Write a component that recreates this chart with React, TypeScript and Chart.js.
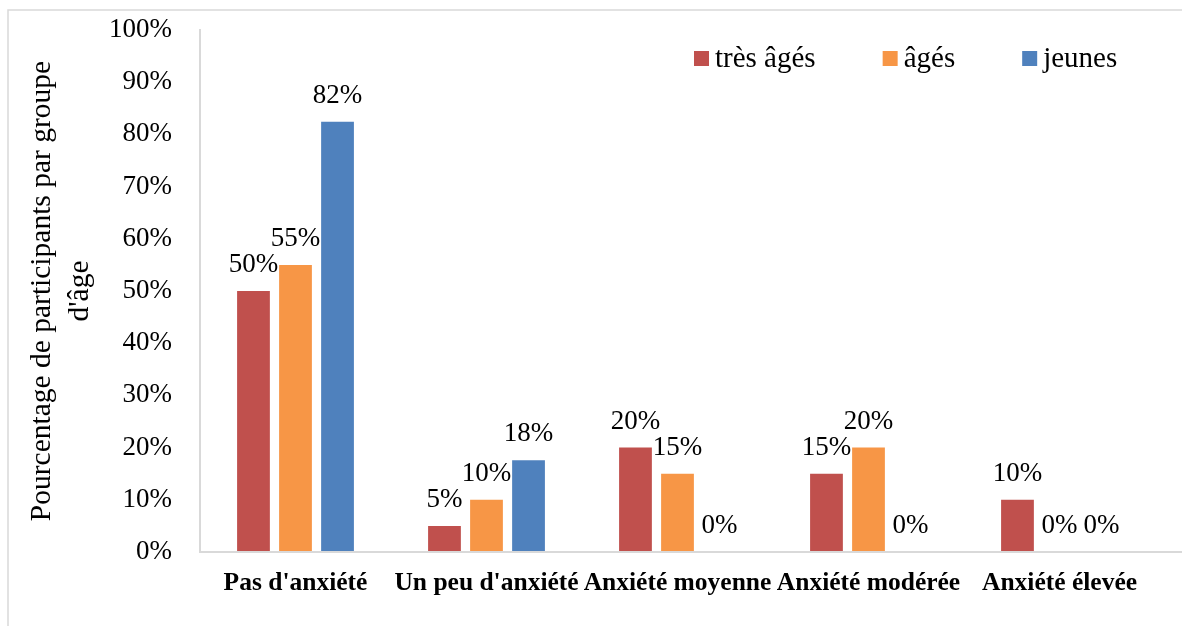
import React, { useEffect, useRef } from 'react';
import { Chart, registerables } from 'chart.js';

Chart.register(...registerables);

const categories = ["Pas d'anxiété", "Un peu d'anxiété", "Anxiété moyenne", "Anxiété modérée", "Anxiété élevée"];
const seriesNames = ['très âgés', 'âgés', 'jeunes'];
const tresAges = [50, 5, 20, 15, 10];
const ages = [55, 10, 15, 20, 0];
const jeunes = [82.4, 17.6, 0, 0, 0];
const seriesColors = ['#C0504D', '#F79646', '#4F81BD'];
const yTitle = ['Pourcentage de participants par groupe', "d'âge"];

const SERIF = '"Liberation Serif", "Times New Roman", serif';
const LINE = '#d9d9d9';

const framePlugin = {
  id: 'frame',
  beforeDraw(chart: any) {
    const { ctx, width, height } = chart;
    ctx.save();
    ctx.strokeStyle = LINE;
    ctx.lineWidth = 1.5;
    ctx.beginPath();
    ctx.moveTo(8, height);
    ctx.lineTo(8, 10);
    ctx.lineTo(width, 10);
    ctx.stroke();
    ctx.restore();
  },
  afterDraw(chart: any) {
    const { ctx, width, chartArea } = chart;
    ctx.save();
    ctx.strokeStyle = LINE;
    ctx.lineWidth = 2;
    ctx.beginPath();
    ctx.moveTo(chartArea.left - 1, chartArea.bottom);
    ctx.lineTo(width, chartArea.bottom);
    ctx.stroke();
    ctx.restore();
  },
};

const dataLabelPlugin = {
  id: 'dataLabels',
  afterDatasetsDraw(chart: any) {
    const { ctx } = chart;
    ctx.save();
    ctx.font = `27px ${SERIF}`;
    ctx.fillStyle = '#000';
    ctx.textAlign = 'center';
    ctx.textBaseline = 'alphabetic';
    chart.data.datasets.forEach((ds: any, i: number) => {
      const meta = chart.getDatasetMeta(i);
      meta.data.forEach((el: any, j: number) => {
        const v = ds.data[j];
        ctx.fillText(`${Math.round(v)}%`, el.x, el.y - 19);
      });
    });
    ctx.restore();
  },
};

const legendPlugin = {
  id: 'customLegend',
  afterDraw(chart: any) {
    const { ctx } = chart;
    ctx.save();
    ctx.font = `29px ${SERIF}`;
    ctx.textBaseline = 'middle';
    ctx.textAlign = 'left';
    let x = 694;
    const y = 51;
    const box = 15;
    chart.data.datasets.forEach((ds: any) => {
      ctx.fillStyle = ds.backgroundColor;
      ctx.fillRect(x, y, box, box);
      ctx.fillStyle = '#000';
      const tx = x + box + 6;
      ctx.fillText(ds.label, tx, y + box / 2 + 1);
      x = tx + ctx.measureText(ds.label).width + 67;
    });
    ctx.restore();
  },
};

export default function App() {
  const ref = useRef<HTMLCanvasElement | null>(null);

  useEffect(() => {
    if (!ref.current) return;
    const seriesValues = [tresAges, ages, jeunes];
    const chart = new Chart(ref.current, {
      type: 'bar',
      data: {
        labels: categories,
        datasets: seriesNames.map((name, i) => ({
          label: name,
          data: seriesValues[i],
          backgroundColor: seriesColors[i],
          borderWidth: 0,
          categoryPercentage: 0.66,
          barPercentage: 0.78,
        })),
      },
      options: {
        responsive: false,
        animation: false,
        layout: { padding: { left: 10, right: 27, top: 30, bottom: 0 } },
        plugins: {
          legend: { display: false },
          tooltip: { enabled: false },
          title: { display: false },
        },
        scales: {
          x: {
            grid: { display: false, drawTicks: false },
            border: { display: false },
            ticks: {
              font: { family: SERIF, size: 25.5, weight: 'bold' },
              color: '#000',
              padding: 16,
              maxRotation: 0,
              autoSkip: false,
            },
            afterFit(scale: any) {
              scale.height = 74;
            },
          },
          y: {
            min: 0,
            max: 100,
            grid: { display: false, drawTicks: false },
            border: { display: true, color: LINE, width: 2 },
            ticks: {
              stepSize: 10,
              font: { family: SERIF, size: 27 },
              color: '#000',
              padding: 28,
              callback: (v: any) => `${v}%`,
            },
            title: {
              display: true,
              text: yTitle,
              font: { family: SERIF, size: 29.5, lineHeight: 1.3 },
              color: '#000',
              padding: { top: 13, bottom: 0 },
            },
            afterFit(scale: any) {
              scale.width = 190;
              scale.paddingTop = 0;
              scale.paddingBottom = 0;
            },
          },
        },
      },
      plugins: [framePlugin, dataLabelPlugin, legendPlugin],
    } as any);
    return () => chart.destroy();
  }, []);

  return (
    <div style={{ position: 'absolute', left: 0, top: 0, width: 1182, height: 626, background: '#fff' }}>
      <canvas ref={ref} width={1182} height={626} style={{ display: 'block' }} />
    </div>
  );
}
